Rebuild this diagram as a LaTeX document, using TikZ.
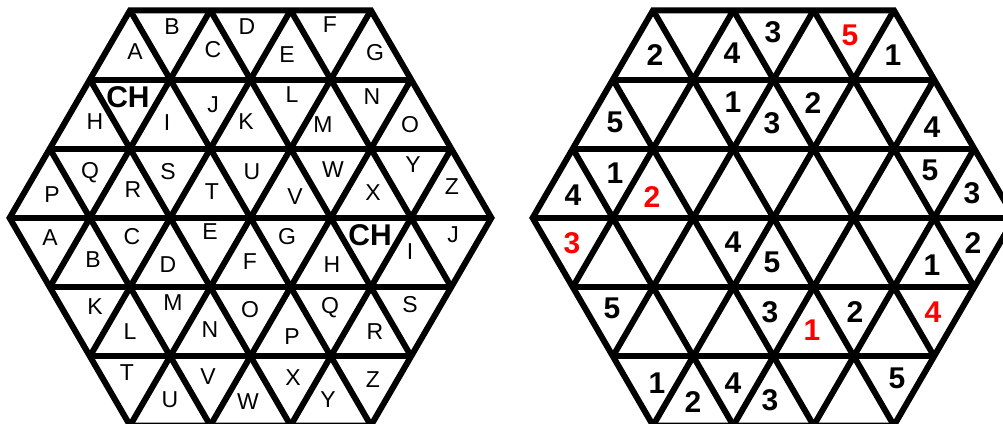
\documentclass[tikz,border=0pt]{standalone}
\usepackage{fontspec}
\setmainfont{Liberation Sans}
\begin{document}
\begin{tikzpicture}[x=1pt,y=-1pt,
  grid/.style={line width=6pt, line join=miter, line cap=butt},
  lett/.style={font=\fontsize{23}{23}\selectfont, inner sep=0pt},
  bch/.style={font=\fontsize{30}{30}\selectfont\bfseries, inner sep=0pt},
  num/.style={font=\fontsize{30}{30}\selectfont\bfseries, inner sep=0pt},
  rnum/.style={num, text=red}]
\useasboundingbox (0,0) rectangle (1003,423);
\foreach \cx in {250.5,773.5} {
  \begin{scope}[shift={(\cx,217.9)}]
    \begin{scope}
      \clip (-240.9,0) -- (-120.45,-207.6) -- (120.45,-207.6) -- (240.9,0) -- (120.45,207.6) -- (-120.45,207.6) -- cycle;
      \foreach \k in {-2,...,2} {
        \draw[grid] (-300,\k*69.2) -- (300,\k*69.2);
        \draw[grid] (\k*80.3-160.6,-276.8) -- (\k*80.3+160.6,276.8);
        \draw[grid] (\k*80.3+160.6,-276.8) -- (\k*80.3-160.6,276.8);
      }
    \end{scope}
    \draw[grid] (-240.9,0) -- (-120.45,-207.6) -- (120.45,-207.6) -- (240.9,0) -- (120.45,207.6) -- (-120.45,207.6) -- cycle;
  \end{scope}
}
% left hexagon letters
\foreach \x/\y/\t [count=\i] in {
  135/52/A, 172/27/B, 213/50/C, 247/27/D, 287/55/E, 330/25/F, 375/53/G,
  95/122/H, 167/123/I, 213/105/J, 246/122/K, 292/95/L, 323/125/M, 372/97/N, 410/125/O,
  52/195/P, 90/173/Q, 133/190/R, 168/172/S, 212/192/T, 252/172/U, 295/197/V, 333/170/W, 373/193/X, 413/165/Y, 452/187/Z,
  50/238/A, 93/260/B, 132/237/C, 168/265/D, 210/232/E, 250/262/F, 287/237/G, 332/265/H, 410/252/I, 453/235/J,
  95/307/K, 130/332/L, 173/303/M, 210/330/N, 250/310/O, 292/337/P, 330/308/Q, 375/332/R, 410/305/S,
  127/373/T, 170/400/U, 208/377/V, 248/402/W, 293/378/X, 328/400/Y, 373/380/Z}
  \node[lett] (l\i) at (\x,\y) {\t};
\node[bch] (ch1) at (128,97) {CH};
\node[bch] (ch2) at (370,235) {CH};
% right hexagon numbers
\foreach \x/\y/\t [count=\i] in {
  655/55/2, 732/53/4, 773/32/3, 893/55/1,
  615/122/5, 733/102/1, 772/123/3, 813/103/2, 932/127/4,
  573/195/4, 615/173/1, 930/170/5, 972/193/3,
  733/242/4, 772/262/5, 973/243/2, 932/265/1,
  612/308/5, 770/312/3, 855/312/2,
  657/383/1, 693/402/2, 733/383/4, 770/400/3, 897/378/5}
  \node[num] (n\i) at (\x,\y) {\t};
\foreach \x/\y/\t [count=\i] in {850/35/5, 652/197/2, 572/243/3, 812/330/1, 933/312/4}
  \node[rnum] (r\i) at (\x,\y) {\t};
\end{tikzpicture}
\end{document}
